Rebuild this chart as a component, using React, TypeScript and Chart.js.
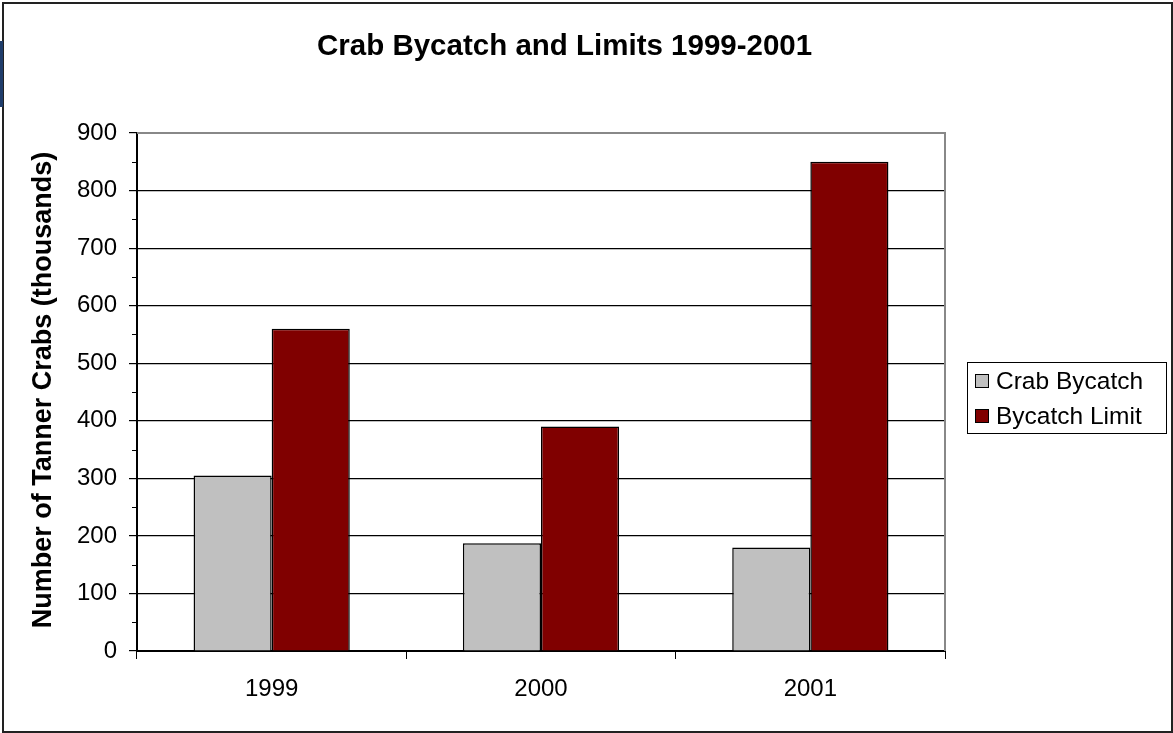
import React, { useEffect, useRef } from "react";
import { Chart, registerables } from "chart.js";

Chart.register(...registerables);

const years = ["1999", "2000", "2001"];
const crabBycatch = [305, 187, 180];
const bycatchLimit = [560, 390, 850];
const seriesNames = ["Crab Bycatch", "Bycatch Limit"];
const seriesColors = ["#C0C0C0", "#800000"];
const chartTitle = "Crab Bycatch and Limits 1999-2001";
const yTitle = "Number of Tanner Crabs (thousands)";

const FONT = "'Liberation Sans', Arial, sans-serif";

const decor = {
  id: "decor",
  beforeDraw(chart: any) {
    const ctx = chart.ctx;
    ctx.save();
    ctx.fillStyle = "#ffffff";
    ctx.fillRect(0, 0, chart.width, chart.height);
    ctx.restore();
  },
  afterDraw(chart: any) {
    const ctx = chart.ctx;
    const a = chart.chartArea;
    const y = chart.scales.y;
    ctx.save();
    // plot area top/right border
    ctx.strokeStyle = "#888888";
    ctx.lineWidth = 2;
    ctx.beginPath();
    ctx.moveTo(a.left, a.top);
    ctx.lineTo(a.right, a.top);
    ctx.lineTo(a.right, a.bottom);
    ctx.stroke();
    // minor ticks
    ctx.strokeStyle = "#000";
    ctx.lineWidth = 1;
    for (let v = 50; v < 900; v += 100) {
      const py = Math.round(y.getPixelForValue(v)) + 0.5;
      ctx.beginPath();
      ctx.moveTo(a.left - 5, py);
      ctx.lineTo(a.left, py);
      ctx.stroke();
    }
    // title
    ctx.fillStyle = "#000";
    ctx.font = `bold 29.5px ${FONT}`;
    ctx.textAlign = "left";
    ctx.textBaseline = "middle";
    ctx.fillText(chartTitle, 317, 47);
    // y title
    ctx.save();
    ctx.translate(44, 390);
    ctx.rotate(-Math.PI / 2);
    ctx.textAlign = "center";
    ctx.font = `bold 27px ${FONT}`;
    ctx.fillText(yTitle, 0, 0);
    ctx.restore();
    // legend
    const lx = 967, ly = 362, lw = 199, lh = 71;
    ctx.strokeStyle = "#000";
    ctx.lineWidth = 1;
    ctx.strokeRect(lx + 0.5, ly + 0.5, lw, lh);
    ctx.font = `24.5px ${FONT}`;
    ctx.textAlign = "left";
    seriesNames.forEach((n, i) => {
      const cy = ly + 19 + i * 35;
      ctx.fillStyle = seriesColors[i];
      ctx.fillRect(975, cy - 7, 14, 14);
      ctx.strokeStyle = "#000";
      ctx.strokeRect(975.5, cy - 6.5, 13, 13);
      ctx.fillStyle = "#000";
      ctx.fillText(n, 996, cy + 1);
    });
    // outer border
    ctx.strokeStyle = "#222";
    ctx.lineWidth = 2;
    ctx.strokeRect(3, 3, 1169, 729);
    // blue patch
    ctx.fillStyle = "#1f3d6b";
    ctx.fillRect(0, 41, 3, 66);
    ctx.restore();
  },
};

export default function App() {
  const ref = useRef<HTMLCanvasElement>(null);
  useEffect(() => {
    document.body.style.margin = "0";
    const chart = new Chart(ref.current!, {
      type: "bar",
      data: {
        labels: years,
        datasets: [
          {
            label: seriesNames[0],
            data: crabBycatch,
            backgroundColor: seriesColors[0],
            borderColor: "#000",
            borderWidth: 1.5,
          },
          {
            label: seriesNames[1],
            data: bycatchLimit,
            backgroundColor: seriesColors[1],
            borderColor: "#000",
            borderWidth: 1.5,
          },
        ],
      },
      options: {
        animation: false,
        responsive: false,
        maintainAspectRatio: false,
        devicePixelRatio: 1,
        datasets: { bar: { categoryPercentage: 0.58, barPercentage: 1 } },
        layout: { padding: { left: 0, top: 133, right: 1173 - 945, bottom: 0 } },
        plugins: {
          legend: { display: false },
          title: { display: false },
          tooltip: { enabled: false },
        },
        scales: {
          x: {
            afterFit: (s: any) => {
              s.height = 733 - 651;
            },
            grid: {
              drawOnChartArea: false,
              drawTicks: true,
              tickLength: 8,
              color: "#000",
              offset: true,
            },
            border: { color: "#000", width: 2 },
            ticks: {
              color: "#000",
              font: { family: FONT, size: 24 },
              padding: 16,
            },
          },
          y: {
            min: 0,
            max: 900,
            afterFit: (s: any) => {
              s.width = 137;
            },
            grid: {
              color: (c: any) => (c.tick && c.tick.value === 900 ? "rgba(0,0,0,0)" : "#000"),
              lineWidth: 1.2,
              tickLength: 8,
              tickColor: "#000",
            },
            border: { color: "#000", width: 2 },
            ticks: {
              stepSize: 100,
              color: "#000",
              font: { family: FONT, size: 24 },
              padding: 12,
            },
          },
        },
      },
      plugins: [decor],
    });
    return () => chart.destroy();
  }, []);
  return <canvas ref={ref} width={1173} height={733} style={{ display: "block" }} />;
}
